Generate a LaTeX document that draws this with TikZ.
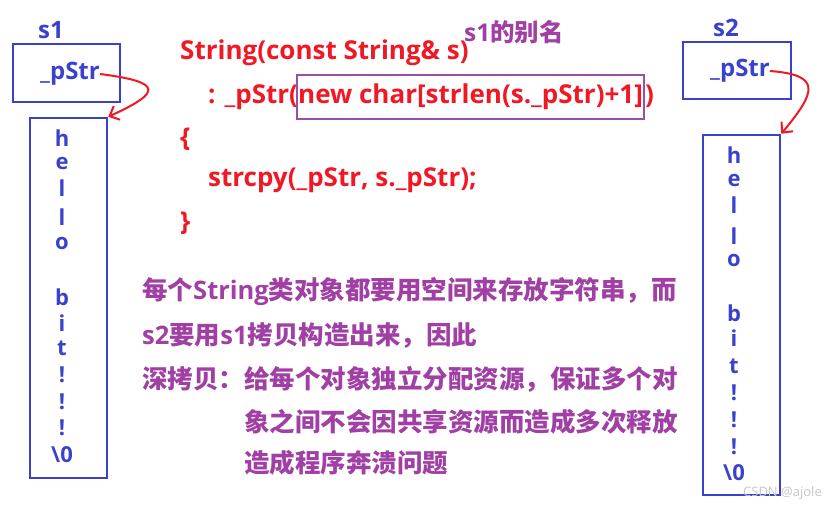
\documentclass[tikz,border=0pt]{standalone}
\usepackage{fontspec}
\setmainfont{Open Sans}
\newfontfamily\cjk{Noto Sans CJK SC Bold}
\usetikzlibrary{positioning,arrows.meta}
\definecolor{memblue}{RGB}{58,66,204}
\definecolor{codered}{RGB}{240,24,36}
\definecolor{notepurple}{RGB}{160,64,164}
\definecolor{boxpurple}{RGB}{150,80,172}

\begin{document}
\begin{tikzpicture}[>=latex, x=1pt, y=-1pt]
\tikzset{
objbox/.style={draw=memblue, line width=2.5pt, inner sep=0pt},
objlabel/.style={text=memblue, font=\bfseries\fontsize{24}{24}\selectfont, inner sep=0pt},
strchar/.style={text=memblue, font=\bfseries\fontsize{22}{22}\selectfont, inner sep=0pt},
ptrarrow/.style={draw=codered, line width=2pt, -{Straight Barb[length=8pt, width=15pt, line width=2pt]}},
codeline/.style={text=codered, font=\bfseries\fontsize{26}{26}\selectfont, text height=20pt, text depth=6pt, inner sep=0pt},
noteline/.style={text=notepurple, font=\bfseries\fontsize{25.5}{25.5}\selectfont, anchor=west, inner sep=0pt}
}
\useasboundingbox (0,0) rectangle (836,508);

% s1 and its characters
\node[objlabel, anchor=west] (s1) at (38,30) {s1};
\node[objbox, minimum width=107pt, minimum height=58pt] (s1obj) at (66.5,73) {};
\node[objlabel] (p1) at (70,74) {\_pStr};
\node[objbox, minimum width=77pt, minimum height=360pt] (str1) at (68.5,298) {};
\foreach \c/\y [count=\i] in {h/138, e/163, l/188, l/217, o/243, b/297, i/323, t/348, !/375, !/402, !/428, {\textbackslash0}/455}
  \node[strchar] (a-\i) at (62,\y) {\c};

% s2 and its characters
\node[objlabel, anchor=west] (s2) at (713,28) {s2};
\node[objbox, minimum width=108pt, minimum height=57pt] (s2obj) at (737,70.5) {};
\node[objlabel] (p2) at (740,71) {\_pStr};
\node[objbox, minimum width=77pt, minimum height=360pt] (str2) at (741.5,315) {};
\foreach \c/\y [count=\i] in {h/155, e/180, l/205, l/236, o/260, b/313, i/338, t/366, !/393, !/420, !/447, {\textbackslash0}/473}
  \node[strchar] (b-\i) at (734,\y) {\c};

% pointers
\draw[ptrarrow] (p1.east) .. controls +(62,8) and +(55,-25) .. (str1.north east);
\draw[ptrarrow] (p2.east) .. controls +(52,4) and +(35,-42) .. (str2.north east);

% copy constructor
\node[codeline, anchor=west] (c1) at (180,53) {String(const String\& s)};
\node[codeline, anchor=west] (c2a) at (208,97) {: \_pStr(};
\node[codeline, right=-2pt of c2a, draw=boxpurple, line width=2pt, inner xsep=1pt, minimum height=44pt] (c2b) {new char[strlen(s.\_pStr)+1]};
\node[codeline, right=0pt of c2b] (c2c) {)};
\node[codeline, anchor=west] (c3) at (180,140) {\{};
\node[codeline, anchor=west] (c4) at (208,180) {strcpy(\_pStr, s.\_pStr);};
\node[codeline, anchor=west] (c5) at (180,223) {\}};
\node[noteline, font=\bfseries\fontsize{24.5}{24.5}\selectfont] (alias) at (464,32) {s1{\cjk 的别名}};

% explanation
\node[noteline] (n1) at (142,292) {{\cjk 每个}String{\cjk 类对象都要用空间来存放字符串，而}};
\node[noteline] (n2) at (142,336) {s2{\cjk 要用}s1{\cjk 拷贝构造出来，因此}};
\node[noteline] (n3) at (142,379) {{\cjk 深拷贝：给每个对象独立分配资源，保证多个对}};
\node[noteline] (n4) at (244,422) {{\cjk 象之间不会因共享资源而造成多次释放}};
\node[noteline] (n5) at (244,463) {{\cjk 造成程序奔溃问题}};

\node[text=gray!45, font=\fontsize{13}{13}\selectfont, anchor=east, inner sep=0pt] (mark) at (822,493) {CSDN @ajole};
\end{tikzpicture}
\end{document}
